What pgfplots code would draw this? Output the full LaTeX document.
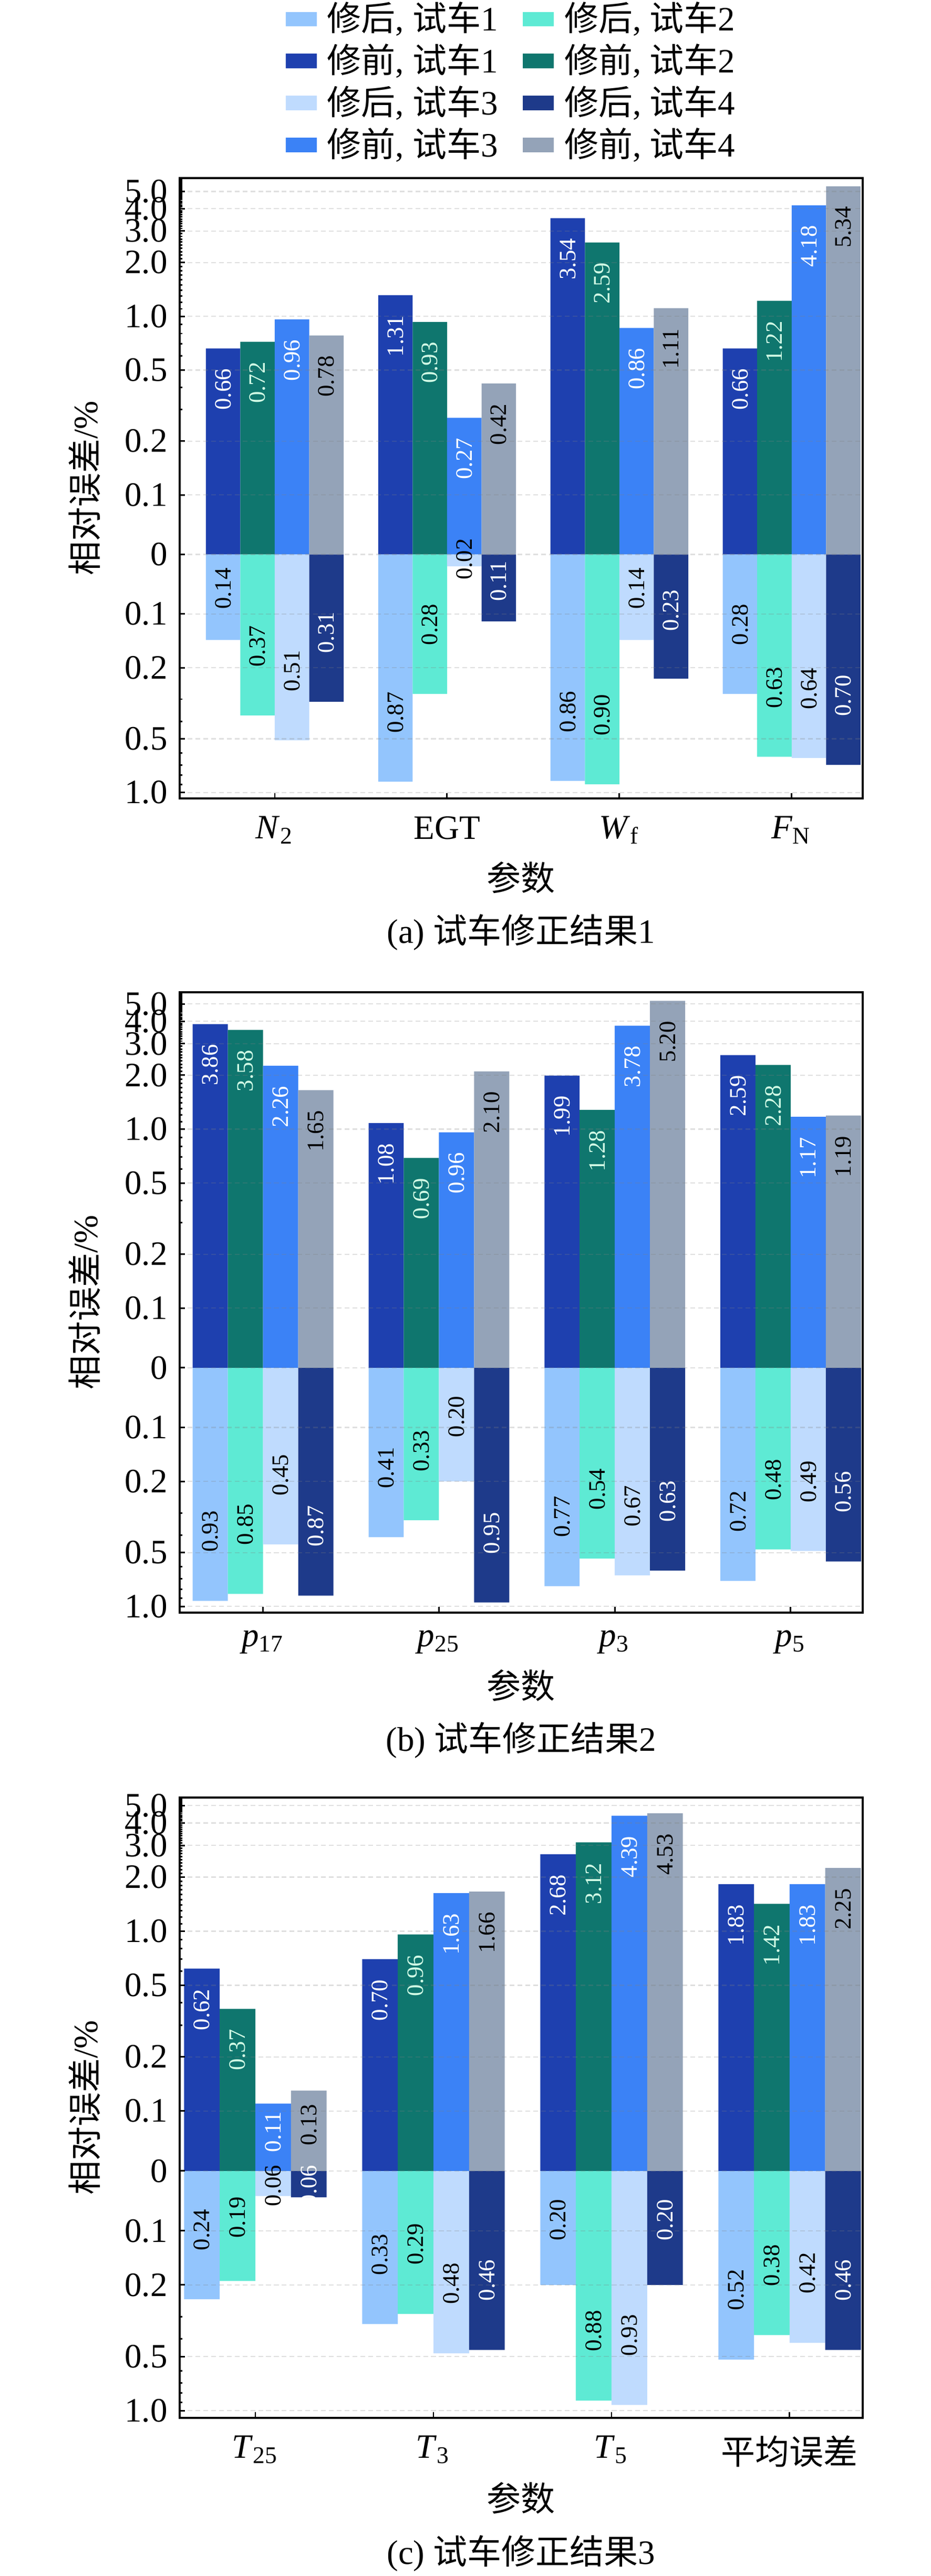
\documentclass[border=0pt,10pt]{standalone}
\usepackage{fontspec}
\setmainfont{Liberation Serif}
\newfontfamily\cjk{Noto Sans CJK SC}
\usepackage{pgfplots}
\usepackage{pgfplotstable}
\pgfplotsset{compat=1.18}

\definecolor{qa1}{HTML}{93C5FD}
\definecolor{qa2}{HTML}{5EEAD4}
\definecolor{qa3}{HTML}{BFDBFE}
\definecolor{qa4}{HTML}{1E3A8A}
\definecolor{qb1}{HTML}{1E40AF}
\definecolor{qb2}{HTML}{0F766E}
\definecolor{qb3}{HTML}{3B82F6}
\definecolor{qb4}{HTML}{94A3B8}
\definecolor{mint}{HTML}{D1FAE5}

% bar values: b = 修前 (upward), a = 修后 (downward, magnitudes)
\pgfplotstableread{
x b1 b2 b3 b4 a1 a2 a3 a4
0 0.66 0.72 0.96 0.78 0.14 0.37 0.51 0.31
1 1.31 0.93 0.27 0.42 0.87 0.28 0.02 0.11
2 3.54 2.59 0.86 1.11 0.86 0.90 0.14 0.23
3 0.66 1.22 4.18 5.34 0.28 0.63 0.64 0.70
}\tabA
\pgfplotstableread{
x b1 b2 b3 b4 a1 a2 a3 a4
0 3.86 3.58 2.26 1.65 0.93 0.85 0.45 0.87
1 1.08 0.69 0.96 2.10 0.41 0.33 0.20 0.95
2 1.99 1.28 3.78 5.20 0.77 0.54 0.67 0.63
3 2.59 2.28 1.17 1.19 0.72 0.48 0.49 0.56
}\tabB
\pgfplotstableread{
x b1 b2 b3 b4 a1 a2 a3 a4 la3 la4
0 0.62 0.37 0.11 0.13 0.24 0.19 0.042 0.044 0.06 0.06
1 0.70 0.96 1.63 1.66 0.33 0.29 0.48 0.46 0.48 0.46
2 2.68 3.12 4.39 4.53 0.20 0.88 0.93 0.20 0.93 0.20
3 1.83 1.42 1.83 2.25 0.52 0.38 0.42 0.46 0.42 0.46
}\tabC

% axis scale: linear for |y|<=0.1, logarithmic above
\newcommand{\Tf}[1]{((((#1)<0.1001) ? ((#1)*3.333333) : (ln(max((#1),0.1))/2.302585+1.333333)))}
\newcommand{\lblfont}{\fontsize{6.9pt}{8pt}\selectfont}

\newcommand{\pbar}[4]{\addplot[bar shift=#3, fill=#4, draw=none] table[x=x, y expr={\Tf{\thisrow{#2}}}] {#1};}
\newcommand{\nbar}[4]{\addplot[bar shift=#3, fill=#4, draw=none] table[x=x, y expr={-\Tf{\thisrow{#2}}}] {#1};}
\newcommand{\plbl}[4]{\addplot[forget plot, bar shift=#3, draw=none, fill=none,
  point meta={\thisrow{#2}},
  nodes near coords={\pgfmathprintnumber[fixed,fixed zerofill,precision=2,assume math mode=true]{\pgfplotspointmeta}},
  every node near coord/.append style={text=#4, font=\lblfont, rotate=90, anchor=center, inner sep=0pt}]
  table[x=x, y expr={\Tf{0.59*\thisrow{#2}}}] {#1};}
\newcommand{\nlbl}[4]{\addplot[forget plot, bar shift=#3, draw=none, fill=none,
  point meta={\thisrow{#2}},
  nodes near coords={\pgfmathprintnumber[fixed,fixed zerofill,precision=2,assume math mode=true]{\pgfplotspointmeta}},
  every node near coord/.append style={text=#4, font=\lblfont, rotate=90, anchor=center, inner sep=0pt}]
  table[x=x, y expr={-\Tf{0.41*\thisrow{#2}}}] {#1};}

\pgfplotsset{
  panel/.style={
    width=199.94pt, height=181.64pt, scale only axis,
    ybar, bar width=0.2, enlargelimits=false,
    anchor=north west,
    axis line style={line width=0.6pt, black},
    xtick={0,1,2,3}, tick pos=left, tick align=inside,
    major tick length=1.6pt, minor tick length=0.8pt,
    tick style={black, line width=0.45pt},
    ytick={-1.333333,-1.032300,-0.634363,-0.333333,0,0.333333,0.634363,1.032300,1.333333,1.634363,1.810455,1.935393,2.032303},
    yticklabels={1.0,0.5,0.2,0.1,0,0.1,0.2,0.5,1.0,2.0,3.0,4.0,5.0},
    minor ytick={-1.28758,-1.23642,-1.17843,-1.11148,-0.93539,-0.81046,
      0.81046,0.93539,1.11148,1.17843,1.23642,1.28758,
      1.37472,1.41251,1.44728,1.47946,1.50942,1.53745,1.56378,1.58861,1.61209,
      1.65555,1.67575,1.69506,1.71354,1.73127,1.74830,1.76470,1.78049,1.79573,
      1.82470,1.83848,1.85185,1.86481,1.87740,1.88964,1.90153,1.91312,1.92440,
      1.94612,1.95658,1.96680,1.97678,1.98654,1.99609,2.00543,2.01457,2.02353,
      2.04090,2.04933,2.05761,2.06572,2.07369,2.08152,2.08920,2.09676,2.10418},
    ymajorgrids,
    major grid style={dash pattern=on 1.4pt off 0.9pt, line width=0.35pt, gray, opacity=0.25},
    axis on top,
    yticklabel style={anchor=east, inner sep=0pt, xshift=-3.38pt, font=\normalsize},
    xticklabel style={anchor=north, inner sep=0pt, yshift=-5.1pt, font=\normalsize},
    ylabel={{\cjk 相对误差}/\%},
    every axis y label/.style={at={(axis description cs:-0.1392,0.5)}, anchor=center, rotate=90, inner sep=0pt},
    xlabel={\cjk 参数},
    every axis x label/.style={anchor=north, inner sep=0pt},
  }
}

\begin{document}
\begin{tikzpicture}
\path[use as bounding box] (0,0) rectangle (272.55pt,-754.3pt);

% ---------------- panel (a)
\begin{axis}[panel, name=axA, at={(52.6pt,-52.14pt)},
  xmin=-0.552, xmax=3.412, ymin=-1.366, ymax=2.107,
  xticklabels={{\textit{N}\textsubscript{2}}, EGT, {\textit{W}\textsubscript{f}}, {\textit{F}\textsubscript{N}}},
  xlabel style={at={(axis description cs:0.5,-0.1008)}},
  legend columns=2,
  legend cell align=left,
  legend image code/.code={\fill[#1] (0pt,-2.15pt) rectangle (9.1pt,2.15pt);},
  legend style={at={(axis description cs:0.4842,1.2845)}, anchor=north, draw=none, fill=none,
    inner sep=0pt, outer sep=0pt, font=\normalsize, row sep=2pt, column sep=3.1pt,
    /tikz/column 2/.style={column sep=7.2pt},
    nodes={inner sep=0pt, text height=8.5pt, text depth=1.8pt}},
]
\nbar{\tabA}{a1}{-0.3}{qa1} \addlegendentry{{\cjk 修后}, {\cjk 试车}1}
\nbar{\tabA}{a2}{-0.1}{qa2} \addlegendentry{{\cjk 修后}, {\cjk 试车}2}
\pbar{\tabA}{b1}{-0.3}{qb1} \addlegendentry{{\cjk 修前}, {\cjk 试车}1}
\pbar{\tabA}{b2}{-0.1}{qb2} \addlegendentry{{\cjk 修前}, {\cjk 试车}2}
\nbar{\tabA}{a3}{0.1}{qa3} \addlegendentry{{\cjk 修后}, {\cjk 试车}3}
\nbar{\tabA}{a4}{0.3}{qa4} \addlegendentry{{\cjk 修后}, {\cjk 试车}4}
\pbar{\tabA}{b3}{0.1}{qb3} \addlegendentry{{\cjk 修前}, {\cjk 试车}3}
\pbar{\tabA}{b4}{0.3}{qb4} \addlegendentry{{\cjk 修前}, {\cjk 试车}4}
\plbl{\tabA}{b1}{-0.3}{white}
\plbl{\tabA}{b2}{-0.1}{mint}
\plbl{\tabA}{b3}{0.1}{white}
\plbl{\tabA}{b4}{0.3}{black}
\nlbl{\tabA}{a1}{-0.3}{black}
\nlbl{\tabA}{a2}{-0.1}{black}
\nlbl{\tabA}{a3}{0.1}{black}
\nlbl{\tabA}{a4}{0.3}{white}
\end{axis}
\node[anchor=center] at ([yshift=-39.2pt]axA.south) {(a) {\cjk 试车修正结果}1};

% ---------------- panel (b)
\begin{axis}[panel, name=axB, at={(52.6pt,-290.53pt)},
  xmin=-0.474, xmax=3.409, ymin=-1.367, ymax=2.098,
  xticklabels={{\textit{p}\textsubscript{17}}, {\textit{p}\textsubscript{25}}, {\textit{p}\textsubscript{3}}, {\textit{p}\textsubscript{5}}},
  xlabel style={at={(axis description cs:0.5,-0.0907)}},
]
\nbar{\tabB}{a1}{-0.3}{qa1}
\nbar{\tabB}{a2}{-0.1}{qa2}
\pbar{\tabB}{b1}{-0.3}{qb1}
\pbar{\tabB}{b2}{-0.1}{qb2}
\nbar{\tabB}{a3}{0.1}{qa3}
\nbar{\tabB}{a4}{0.3}{qa4}
\pbar{\tabB}{b3}{0.1}{qb3}
\pbar{\tabB}{b4}{0.3}{qb4}
\plbl{\tabB}{b1}{-0.3}{white}
\plbl{\tabB}{b2}{-0.1}{mint}
\plbl{\tabB}{b3}{0.1}{white}
\plbl{\tabB}{b4}{0.3}{black}
\nlbl{\tabB}{a1}{-0.3}{black}
\nlbl{\tabB}{a2}{-0.1}{black}
\nlbl{\tabB}{a3}{0.1}{black}
\nlbl{\tabB}{a4}{0.3}{white}
\end{axis}
\node[anchor=center] at ([yshift=-37.4pt]axB.south) {(b) {\cjk 试车修正结果}2};

% ---------------- panel (c)
\begin{axis}[panel, name=axC, at={(52.6pt,-526.3pt)},
  xmin=-0.425, xmax=3.410, ymin=-1.373, ymax=2.078,
  xticklabels={{\textit{T}\textsubscript{25}}, {\textit{T}\textsubscript{3}}, {\textit{T}\textsubscript{5}}, {\cjk 平均误差}},
  xlabel style={at={(axis description cs:0.5,-0.1033)}},
]
\nbar{\tabC}{a1}{-0.3}{qa1}
\nbar{\tabC}{a2}{-0.1}{qa2}
\pbar{\tabC}{b1}{-0.3}{qb1}
\pbar{\tabC}{b2}{-0.1}{qb2}
\nbar{\tabC}{a3}{0.1}{qa3}
\nbar{\tabC}{a4}{0.3}{qa4}
\pbar{\tabC}{b3}{0.1}{qb3}
\pbar{\tabC}{b4}{0.3}{qb4}
\plbl{\tabC}{b1}{-0.3}{white}
\plbl{\tabC}{b2}{-0.1}{mint}
\plbl{\tabC}{b3}{0.1}{white}
\plbl{\tabC}{b4}{0.3}{black}
\nlbl{\tabC}{a1}{-0.3}{black}
\nlbl{\tabC}{a2}{-0.1}{black}
\nlbl{\tabC}{la3}{0.1}{black}
\nlbl{\tabC}{la4}{0.3}{white}
\end{axis}
\node[anchor=center] at ([yshift=-39.7pt]axC.south) {(c) {\cjk 试车修正结果}3};
\end{tikzpicture}
\end{document}
